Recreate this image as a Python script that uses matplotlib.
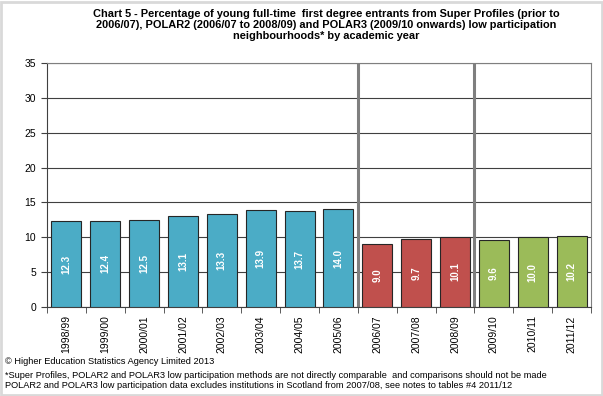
import matplotlib.pyplot as plt
from matplotlib.patches import Rectangle

plt.rcParams['font.family'] = ['Liberation Sans', 'DejaVu Sans']

# data
years = ['1998/99', '1999/00', '2000/01', '2001/02', '2002/03', '2003/04', '2004/05',
         '2005/06', '2006/07', '2007/08', '2008/09', '2009/10', '2010/11', '2011/12']
values = [12.3, 12.4, 12.5, 13.1, 13.3, 13.9, 13.7, 14.0, 9.0, 9.7, 10.1, 9.6, 10.0, 10.2]
groups = ['super'] * 8 + ['polar2'] * 3 + ['polar3'] * 3
group_colors = {'super': '#4BACC6', 'polar2': '#C0504D', 'polar3': '#9BBB59'}

title = ("Chart 5 - Percentage of young full-time  first degree entrants from Super Profiles (prior to\n"
         "2006/07), POLAR2 (2006/07 to 2008/09) and POLAR3 (2009/10 onwards) low participation\n"
         "neighbourhoods* by academic year")
copyright_note = "\u00a9 Higher Education Statistics Agency Limited 2013"
footnote = ("*Super Profiles, POLAR2 and POLAR3 low participation methods are not directly comparable  and comparisons should not be made\n"
            "POLAR2 and POLAR3 low participation data excludes institutions in Scotland from 2007/08, see notes to tables #4 2011/12")

fig = plt.figure(figsize=(6.03, 3.96), dpi=100)
W, H = 603, 396
ax = fig.add_axes([47 / W, 1 - 307 / H, (591 - 47) / W, (307 - 63) / H])

x = list(range(len(years)))
colors = [group_colors[g] for g in groups]
ax.bar(x, values, width=0.77, color=colors, edgecolor='#262626', linewidth=0.8, zorder=3)

for xi, v in zip(x, values):
    ax.text(xi, v / 2, f"{v:.1f}", rotation=90, ha='center', va='center',
            color='white', fontsize=7, fontweight='bold', zorder=4)

# separators between the three methods
for i in range(1, len(groups)):
    if groups[i] != groups[i - 1]:
        ax.axvline(i - 0.5, color='#7F7F7F', linewidth=2.2, zorder=2)

ax.set_xlim(-0.5, len(years) - 0.5)
ax.set_ylim(0, 35)
ax.set_yticks(range(0, 36, 5))
ax.yaxis.grid(True, color='#404040', linewidth=0.8, zorder=0)
ax.set_axisbelow(True)

ax.set_xticks(x)
ax.set_xticklabels(years, rotation=90, fontsize=7.5)
ax.set_xticks([i - 0.5 for i in range(len(years) + 1)], minor=True)
ax.tick_params(axis='x', which='major', length=0, pad=6)
ax.tick_params(axis='x', which='minor', length=4, direction='out', color='#404040')
ax.tick_params(axis='y', labelsize=7.5, length=4, color='#404040', pad=4)

for s in ['left', 'bottom']:
    ax.spines[s].set_color('#404040')
for s in ['top', 'right']:
    ax.spines[s].set_color('#7F7F7F')

fig.text(326 / W, 1 - 9 / H, title, ha='center', va='top', fontsize=7.9,
         fontweight='bold', linespacing=1.12)
fig.text(5 / W, 1 - 361 / H, copyright_note, ha='left', va='center', fontsize=6.7)
fig.text(5 / W, 1 - 380.5 / H, footnote, ha='left', va='center', fontsize=6.7, linespacing=1.1)

fig.patches.append(Rectangle((1 / W, 1 / H), 1 - 2.5 / W, 1 - 2.5 / H,
                             transform=fig.transFigure, fill=False,
                             edgecolor='#D9D9D9', linewidth=2))

fig.savefig('out.png', dpi=100)
